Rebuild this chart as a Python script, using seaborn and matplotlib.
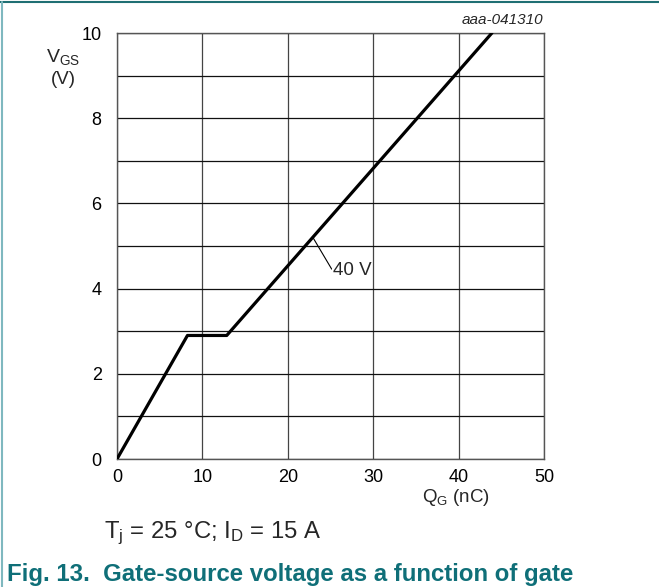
import matplotlib
matplotlib.use("Agg")
import matplotlib.pyplot as plt
import seaborn as sns
import pandas as pd
from matplotlib.lines import Line2D

# Data
qg_nc = [0.0, 8.25, 12.85, 43.9]
vgs_v = [0.0, 2.90, 2.90, 10.0]
x_ticks = [0, 10, 20, 30, 40, 50]
y_ticks = [0, 2, 4, 6, 8, 10]
y_minor = [1, 3, 5, 7, 9]
curve_label = "40 V"

sns.set_theme(style="white")
plt.rcParams['font.family'] = ['Liberation Sans', 'DejaVu Sans']
plt.rcParams['mathtext.fontset'] = 'custom'
plt.rcParams['mathtext.rm'] = 'Liberation Sans'
plt.rcParams['mathtext.it'] = 'Liberation Sans:italic'

W, H = 659, 587
fig = plt.figure(figsize=(W / 100, H / 100), dpi=100)
fig.patch.set_facecolor("white")

ax = fig.add_axes([117 / W, (H - 459) / H, 427 / W, 426 / H])

df = pd.DataFrame({"QG": qg_nc, "VGS": vgs_v})
sns.lineplot(data=df, x="QG", y="VGS", ax=ax, color="black", linewidth=2.3,
             estimator=None, sort=False, zorder=5)

ax.set_xlim(0, 50)
ax.set_ylim(0, 10)
ax.set_xticks(x_ticks)
ax.set_yticks(y_ticks)
ax.set_yticks(y_minor, minor=True)
ax.set_xticklabels([str(v) for v in x_ticks])
ax.set_yticklabels([str(v) for v in y_ticks])
ax.grid(True, which="both", axis="y", color="#111111", linewidth=0.9)
ax.grid(True, which="major", axis="x", color="#444444", linewidth=0.9)
ax.tick_params(axis="both", which="both", length=0, labelsize=13, colors="black")
ax.tick_params(axis="y", pad=11)
ax.tick_params(axis="x", pad=7)
ax.set_xlabel("")
ax.set_ylabel("")
for s in ax.spines.values():
    s.set_color("#555555")
    s.set_linewidth(1.0)
    s.set_visible(True)

ax.annotate(curve_label, xy=(23.0, 5.18), xytext=(25.25, 4.42),
            fontsize=13.5, ha="left", va="center",
            bbox=dict(boxstyle="square,pad=0.05", fc="white", ec="none"),
            arrowprops=dict(arrowstyle="-", lw=0.8, color="black",
                            shrinkA=0, shrinkB=0, relpos=(0, 0.5)),
            zorder=6)

# Axis labels as figure text
fig.text(63 / W, 1 - 57 / H, r"$\mathregular{V_{GS}}$", fontsize=14, ha="center", va="center")
fig.text(63 / W, 1 - 79 / H, "(V)", fontsize=13.5, ha="center", va="center")
fig.text(456 / W, 1 - 497 / H, r"$\mathregular{Q_G}$ (nC)", fontsize=13.5, ha="center", va="center")
fig.text(543 / W, 1 - 20 / H, "aaa-041310", fontsize=11, style="italic", ha="right", va="center")

fig.text(104 / W, 1 - 533 / H, r"$\mathregular{T_j}$ = 25 °C; $\mathregular{I_D}$ = 15 A",
         fontsize=17.2, ha="left", va="center")
fig.text(7 / W, 1 - 574 / H, "Fig. 13.  Gate-source voltage as a function of gate",
         fontsize=17.3, fontweight="bold", color="#0f6f78", ha="left", va="center")

# Borders
fig.add_artist(Line2D([0, 1], [1 - 2 / H, 1 - 2 / H], transform=fig.transFigure,
                      color="#1f6f73", linewidth=1.5))
fig.add_artist(Line2D([1.5 / W, 1.5 / W], [0, 1 - 2 / H], transform=fig.transFigure,
                      color="#7fb8bf", linewidth=1.5))

fig.savefig("out.png", dpi=100)
